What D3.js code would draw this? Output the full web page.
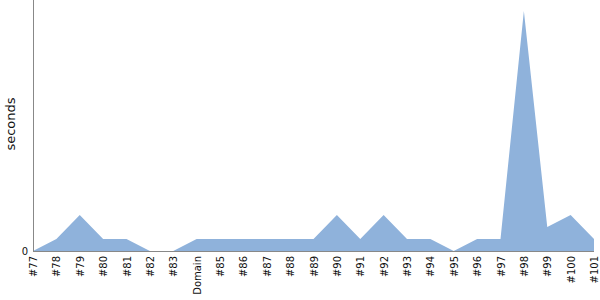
<!DOCTYPE html>
<html><head><meta charset="utf-8">
<script src="https://cdn.jsdelivr.net/npm/d3@7/dist/d3.min.js"></script>
<style>body{margin:0;background:#fff}svg{display:block}</style>
</head><body>
<script>
const categories = ["#77","#78","#79","#80","#81","#82","#83","Domain","#85","#86","#87","#88","#89","#90","#91","#92","#93","#94","#95","#96","#97","#98","#99","#100","#101"];
const seconds = [0,1,3,1,1,0,0,1,1,1,1,1,1,3,1,3,1,1,0,1,1,20,2,3,1];
const yTicks = [0];

const W = 600, H = 300;
const mLeft = 33, mRight = 594, mBottom = 251, mTop = 11;
const FONT = '"DejaVu Sans"';
const svg = d3.select("body").append("svg").attr("width", W).attr("height", H);

const x = d3.scalePoint().domain(categories).range([mLeft, mRight]);
const y = d3.scaleLinear().domain([0, 20]).range([mBottom, mTop]);

const area = d3.area()
  .x((d, i) => x(categories[i]))
  .y0(y(0))
  .y1(d => y(d));

svg.append("path").datum(seconds).attr("d", area).attr("fill", "#8fb2db");

// axes
svg.append("line").attr("x1", mLeft + 0.5).attr("x2", mLeft + 0.5).attr("y1", 0).attr("y2", mBottom)
  .attr("stroke", "#888");
svg.append("line").attr("x1", mLeft).attr("x2", mRight).attr("y1", mBottom + 0.5).attr("y2", mBottom + 0.5)
  .attr("stroke", "#888");

const yAxis = svg.append("g").attr("transform", `translate(${mLeft},0)`)
  .call(d3.axisLeft(y).tickValues(yTicks).tickSize(0).tickPadding(5));
yAxis.select(".domain").remove();
yAxis.selectAll("text").attr("font-size", 10).attr("fill", "#111").style("font-family", FONT);

const xAxis = svg.append("g").attr("transform", `translate(0,${mBottom})`)
  .call(d3.axisBottom(x).tickSize(0).tickPadding(5));
xAxis.select(".domain").remove();
xAxis.selectAll("text")
  .attr("font-size", 10).attr("fill", "#111").style("font-family", FONT)
  .attr("transform", "rotate(-90)")
  .attr("text-anchor", "end")
  .attr("x", -5).attr("y", 0).attr("dy", "0.35em");

svg.append("text").attr("transform", `translate(15,124) rotate(-90)`)
  .attr("text-anchor", "middle").attr("font-size", 13).attr("fill", "#111").style("font-family", FONT).text("seconds");
</script>
</body></html>
